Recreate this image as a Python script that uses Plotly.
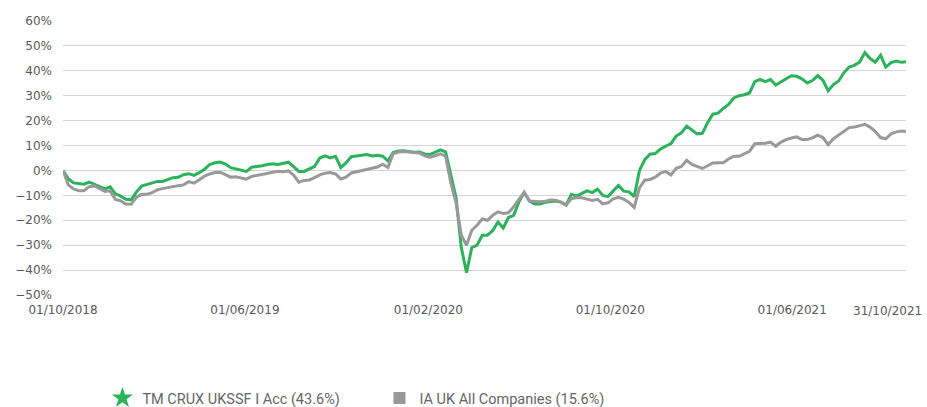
import pandas as pd
import plotly.graph_objects as go

# weekly observation dates (Mondays) plus the final reporting date
dates = list(pd.date_range("2018-10-01", periods=161, freq="7D")) + [pd.Timestamp("2021-10-31")]

fund_name = "TM CRUX UKSSF I Acc (43.6%)"
sector_name = "IA UK All Companies (15.6%)"

fund = [
    0, -3.3, -5.0, -5.1, -5.5, -4.7, -5.6, -6.4, -7.4, -6.6,
    -9.4, -10.3, -11.6, -11.8, -8.7, -6.3, -5.7, -5.2, -4.4, -4.4,
    -3.6, -2.9, -2.7, -1.7, -1.3, -2.0, -0.9, 0.5, 2.4, 3.1,
    3.4, 2.6, 1.1, 0.6, 0.2, -0.4, 1.3, 1.5, 1.9, 2.4,
    2.7, 2.4, 3.0, 3.3, 1.5, -0.4, -0.4, 0.5, 1.6, 5.0,
    5.9, 5.0, 5.7, 1.2, 3.0, 5.5, 5.8, 6.0, 6.4, 5.8,
    6.1, 5.7, 3.8, 7.2, 7.8, 7.9, 7.6, 7.3, 7.4, 6.6,
    6.4, 7.2, 8.3, 7.5, -1.8, -11.0, -31.0, -41.0, -31.0, -30.0,
    -26.0, -26.0, -24.1, -20.7, -23.1, -18.9, -18.0, -12.6, -8.9, -12.2,
    -13.5, -13.5, -12.8, -12.4, -12.3, -12.7, -13.9, -9.6, -10.3, -9.2,
    -8.2, -8.9, -7.5, -10.0, -10.5, -8.2, -6.0, -8.3, -8.6, -10.5, 0.0,
    4.3, 6.5, 6.8, 8.6, 9.7, 10.8, 13.8, 15.1, 17.8, 16.2,
    14.7, 14.9, 19.2, 22.6, 23.0, 24.9, 26.5, 29.1, 30.0, 30.4,
    31.1, 35.7, 36.6, 35.7, 36.5, 34.3, 35.7, 36.8, 38.0, 37.8,
    36.8, 35.1, 36.1, 38.1, 36.2, 32.0, 34.5, 35.9, 39.2, 41.5,
    42.2, 43.5, 47.3, 44.9, 43.5, 46.3, 41.5, 43.3, 43.9, 43.4,
    43.6,
]

sector = [
    0, -5.8, -7.4, -8.1, -8.1, -6.5, -6.2, -7.2, -8.4, -8.2,
    -11.6, -12.2, -13.5, -13.6, -10.8, -9.6, -9.6, -8.9, -7.8, -7.3,
    -6.8, -6.5, -6.1, -5.8, -4.5, -5.1, -3.6, -2.3, -1.4, -0.8,
    -0.7, -1.6, -2.7, -2.5, -3.1, -3.5, -2.4, -2.0, -1.7, -1.2,
    -0.8, -0.3, -0.5, -0.2, -1.9, -4.7, -4.0, -3.8, -2.9, -1.8,
    -1.1, -0.8, -1.4, -3.4, -2.7, -1.0, -0.5, 0.0, 0.3, 0.9,
    1.4, 2.5, 1.2, 6.7, 7.4, 7.6, 7.5, 7.2, 7.0, 5.9,
    5.3, 5.9, 6.7, 5.7, -4.9, -13.0, -26.0, -30.0, -24.0, -22.0,
    -19.5, -20.0, -18.0, -16.6, -17.3, -17.0, -14.6, -11.6, -8.7, -12.3,
    -12.6, -12.6, -12.4, -11.9, -12.0, -12.7, -13.8, -11.4, -10.9, -11.0,
    -11.5, -12.0, -11.6, -13.4, -13.0, -11.4, -10.8, -11.5, -12.8, -14.8, -7.0,
    -3.9, -3.6, -2.7, -1.1, -0.4, -1.8, 0.9, 1.6, 4.1, 2.4,
    1.6, 0.8, 1.9, 3.0, 3.1, 3.1, 4.6, 5.7, 5.7, 6.6,
    7.7, 10.7, 10.8, 10.9, 11.4, 9.7, 11.4, 12.4, 13.0, 13.5,
    12.4, 12.4, 13.1, 14.2, 13.2, 10.4, 12.7, 14.3, 15.8, 17.2,
    17.4, 18.1, 18.5, 17.4, 15.6, 13.2, 12.7, 14.7, 15.5, 15.8,
    15.6,
]

tick_dates = ["2018-10-01", "2019-06-01", "2020-02-01", "2020-10-01", "2021-06-01"]
tick_text = ["01/10/2018", "01/06/2019", "01/02/2020", "01/10/2020", "01/06/2021"]
end_label = "31/10/2021"

GREEN = "#2bb35c"
GREY = "#999999"

fig = go.Figure()
fig.add_trace(go.Scatter(x=dates, y=fund, mode="lines", line=dict(color=GREEN, width=3),
                         showlegend=False, hoverinfo="skip"))
fig.add_trace(go.Scatter(x=dates, y=sector, mode="lines", line=dict(color=GREY, width=3),
                         showlegend=False, hoverinfo="skip"))
# legend entries with star / square symbols
fig.add_trace(go.Scatter(x=[None], y=[None], mode="markers", name=fund_name,
                         marker=dict(symbol="star", size=20, color=GREEN)))
fig.add_trace(go.Scatter(x=[None], y=[None], mode="markers", name=sector_name,
                         marker=dict(symbol="square", size=12, color=GREY)))

axis_font = dict(family="DejaVu Sans", size=12, color="#595959")

fig.update_layout(
    width=927, height=407,
    margin=dict(l=63, r=21, t=21, b=112),
    paper_bgcolor="white", plot_bgcolor="white",
    xaxis=dict(
        type="date", range=["2018-10-01", "2021-10-31"],
        tickvals=tick_dates, ticktext=tick_text,
        showgrid=False, zeroline=False, showline=False, ticks="",
        tickfont=axis_font, ticklabelstandoff=6,
    ),
    yaxis=dict(
        range=[-50, 60], dtick=10, tick0=0, ticksuffix="%",
        showgrid=True, gridcolor="#d4d4d4", gridwidth=1.2,
        zeroline=False, showline=False, ticks="",
        tickfont=axis_font, ticklabelstandoff=10,
    ),
    legend=dict(
        orientation="h", xref="container", yref="container",
        x=0.1105, y=0.022, xanchor="left", yanchor="middle",
        entrywidth=232, entrywidthmode="pixels",
        font=dict(family="Roboto", size=14.5, color="#666666"),
        itemsizing="trace",
    ),
    annotations=[dict(
        x="2021-10-31", y=0, xref="x", yref="paper", yanchor="top",
        text=end_label, showarrow=False, xshift=-19, yshift=-7,
        font=axis_font,
    )],
)

fig.write_html("out.html", config={"displayModeBar": False},
               post_script="document.body.style.margin='0';")
